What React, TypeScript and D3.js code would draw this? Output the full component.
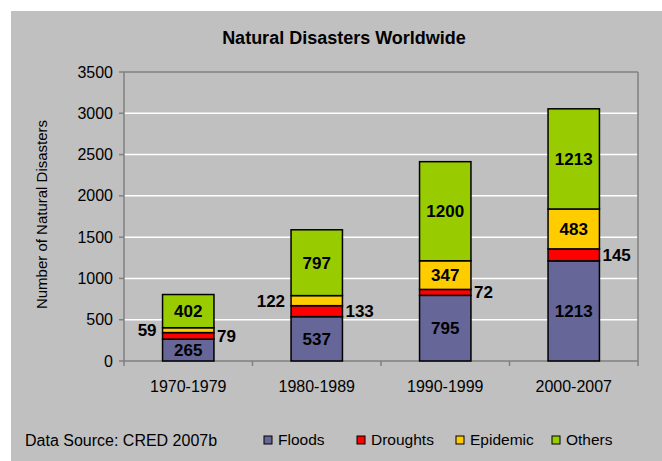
import React from "react";
import * as d3 from "d3";

const decades = ["1970-1979", "1980-1989", "1990-1999", "2000-2007"];
const floods = [265, 537, 795, 1213];
const droughts = [79, 133, 72, 145];
const epidemic = [59, 122, 347, 483];
const others = [402, 797, 1200, 1213];
const yTicks = [0, 500, 1000, 1500, 2000, 2500, 3000, 3500];

const seriesNames = ["Floods", "Droughts", "Epidemic", "Others"];
const seriesColors = ["#666699", "#ff0000", "#ffcc00", "#99cc00"];

const W = 662;
const H = 461;
const plot = { left: 124, right: 638, top: 72, bottom: 361 };
const FONT = "Arial, 'Liberation Sans', sans-serif";

// where the value label of a segment goes: inside, or just beside the bar
function labelSide(series: number, bar: number, value: number): "in" | "left" | "right" {
  if (series === 1) return "right";
  if (series === 2 && value < 200) return "left";
  return "in";
}

export default function App() {
  const x = d3
    .scaleBand<string>()
    .domain(decades)
    .range([plot.left, plot.right])
    .paddingInner(0.6)
    .paddingOuter(0.3);
  const y = d3.scaleLinear().domain([0, 3500]).range([plot.bottom, plot.top]);

  const rows = decades.map((d, i) => ({
    decade: d,
    Floods: floods[i],
    Droughts: droughts[i],
    Epidemic: epidemic[i],
    Others: others[i],
  }));
  const stacked = d3.stack<any>().keys(seriesNames)(rows);

  const step = x.step();
  const bandEdges = decades.map((_, i) => plot.left + i * step).concat([plot.right]);

  return (
    <svg
      width={W}
      height={H}
      style={{ position: "absolute", left: 0, top: 0, fontFamily: FONT }}
    >
      <rect x={0} y={0} width={W} height={H} fill="#ffffff" />
      <rect x={11} y={11} width={W - 11} height={H - 11} fill="#c0c0c0" />

      <text x={344} y={44} textAnchor="middle" fontSize={18} fontWeight="bold" fill="#000">
        Natural Disasters Worldwide
      </text>

      {/* gridlines */}
      {yTicks.slice(1, -1).map((t) => (
        <line key={t} x1={plot.left} x2={plot.right} y1={y(t)} y2={y(t)} stroke="#ffffff" strokeWidth={1.5} />
      ))}
      {/* plot frame */}
      <line x1={plot.left} x2={plot.right} y1={plot.top} y2={plot.top} stroke="#808080" strokeWidth={1.5} />
      <line x1={plot.right} x2={plot.right} y1={plot.top} y2={plot.bottom} stroke="#808080" strokeWidth={1.5} />

      {/* y axis */}
      <line x1={plot.left} x2={plot.left} y1={plot.top} y2={plot.bottom} stroke="#808080" strokeWidth={1.5} />
      {yTicks.map((t) => (
        <g key={t}>
          <line x1={plot.left - 5} x2={plot.left} y1={y(t)} y2={y(t)} stroke="#808080" strokeWidth={1.5} />
          <text x={113} y={y(t)} dy="0.35em" textAnchor="end" fontSize={16} fill="#000">
            {t}
          </text>
        </g>
      ))}
      <text
        transform={`translate(47,${(plot.top + plot.bottom) / 2 - 2}) rotate(-90)`}
        textAnchor="middle"
        fontSize={15}
        fill="#000"
      >
        Number of Natural Disasters
      </text>

      {/* x axis */}
      <line x1={plot.left} x2={plot.right} y1={plot.bottom} y2={plot.bottom} stroke="#808080" strokeWidth={1.5} />
      {bandEdges.map((e, i) => (
        <line key={i} x1={e} x2={e} y1={plot.bottom} y2={plot.bottom + 5} stroke="#808080" strokeWidth={1.5} />
      ))}
      {decades.map((d) => (
        <text key={d} x={(x(d) as number) + x.bandwidth() / 2} y={386} dy="0.35em" textAnchor="middle" fontSize={16} fill="#000">
          {d}
        </text>
      ))}

      {/* stacked bars */}
      {stacked.map((layer, si) => (
        <g key={layer.key}>
          {layer.map((seg, bi) => (
            <rect
              key={bi}
              x={x(decades[bi]) as number}
              y={y(seg[1])}
              width={x.bandwidth()}
              height={y(seg[0]) - y(seg[1])}
              fill={seriesColors[si]}
              stroke="#000"
              strokeWidth={1.5}
            />
          ))}
        </g>
      ))}

      {/* value labels */}
      {stacked.map((layer, si) => (
        <g key={layer.key}>
          {layer.map((seg, bi) => {
            const v = seg[1] - seg[0];
            const side = labelSide(si, bi, v);
            const x0 = x(decades[bi]) as number;
            const cy = (y(seg[0]) + y(seg[1])) / 2;
            let lx = x0 + x.bandwidth() / 2;
            let anchor: "middle" | "start" | "end" = "middle";
            if (side === "right") {
              lx = x0 + x.bandwidth() + 3;
              anchor = "start";
            } else if (side === "left") {
              lx = x0 - 6;
              anchor = "end";
            }
            return (
              <text key={bi} x={lx} y={cy} dy="0.35em" textAnchor={anchor} fontSize={17} fontWeight="bold" fill="#000">
                {v}
              </text>
            );
          })}
        </g>
      ))}

      {/* source note and legend */}
      <text x={25} y={440} dy="0.35em" fontSize={16} fill="#000">
        Data Source: CRED 2007b
      </text>
      {seriesNames.map((name, i) => {
        const lx = [264, 357, 456, 552][i];
        return (
          <g key={name}>
            <rect x={lx} y={436} width={8} height={8} fill={seriesColors[i]} stroke="#000" strokeWidth={1} />
            <text x={lx + 14} y={440} dy="0.35em" fontSize={15.5} fill="#000">
              {name}
            </text>
          </g>
        );
      })}
    </svg>
  );
}
